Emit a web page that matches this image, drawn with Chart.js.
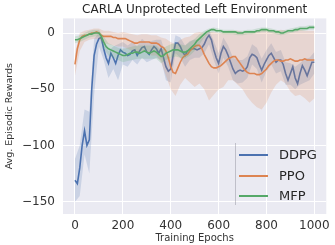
<!DOCTYPE html>
<html>
<head>
<meta charset="utf-8">
<script src="https://cdn.jsdelivr.net/npm/chart.js@4.4.1/dist/chart.umd.min.js"></script>
<style>
  body { margin: 0; background: #fff; }
  #wrap { position: relative; width: 335px; height: 245px; }
  #legend { position: absolute; left: 235px; top: 143px; width: 97px; height: 62px; border-left: 1px solid rgba(140,140,150,0.45); font-family: "DejaVu Sans", sans-serif; font-size: 13px; color: #262626; }
  .item { position: absolute; left: 0; height: 20px; width: 97px; }
  .swatch { position: absolute; left: 3px; top: 9px; width: 29px; height: 2px; }
  .lbl { position: absolute; left: 43px; top: 2px; line-height: 16px; }
</style>
</head>
<body>
<div id="wrap">
  <canvas id="rewardChart" width="335" height="245"></canvas>
  <div id="legend"></div>
</div>
<script>
    // x positions (training epochs)
    const epochs = Array.from({length: 101}, (_, i) => i * 10)
    const bandEpochs = Array.from({length: 51}, (_, i) => i * 20)

    const seriesNames = ['DDPG', 'PPO', 'MFP']
    const seriesColors = ['#4C72B0', '#DD8452', '#55A868']

    const xTicks = [0, 200, 400, 600, 800, 1000]
    const yTicks = [0, -50, -100, -150]

    // mean rewards, every 10 epochs
    const ddpg = [-131,-134,-120,-100,-87,-100,-95,-50,-20,-10,
        -5,-4,-14,-22,-27,-18,-22,-27,-20,-15,
        -17,-18,-20,-19,-16,-15,-20,-16,-13,-12,
        -17,-19,-15,-12,-14,-18,-14,-22,-30,-34,
        -32,-20,-9,-9,-12,-17,-20,-16,-15,-14,
        -14,-15,-14,-13,-10,-5,-2,-6,-15,-22,
        -27,-18,-12,-15,-20,-26,-32,-36,-34,-33,
        -34,-33,-30,-22,-19,-20,-22,-28,-33,-28,
        -24,-20,-18,-22,-26,-24,-24,-28,-36,-42,
        -36,-30,-40,-45,-36,-29,-33,-38,-32,-26,
        -26]
    const ppo = [-28,-14,-6,-3,-2,-2,-1,0,0,1,
        0,-2,-3,-3,-3,-3,-4,-4,-5,-5,
        -5,-5,-6,-7,-8,-9,-9,-8,-8,-8,
        -8,-8,-9,-9,-9,-10,-12,-13,-16,-22,
        -30,-35,-36,-31,-26,-22,-20,-19,-16,-14,
        -12,-11,-11,-14,-19,-23,-27,-30,-31,-31,
        -30,-29,-27,-25,-23,-22,-21,-21,-24,-27,
        -30,-33,-35,-36,-36,-36,-37,-37,-36,-34,
        -32,-29,-27,-25,-24,-24,-25,-25,-24,-24,
        -23,-24,-25,-25,-24,-24,-23,-24,-24,-24,
        -24]
    const mfp = [-6,-6,-5,-4,-3,-2,-1,-1,0,0,
        0,-3,-8,-12,-14,-15,-16,-17,-18,-19,
        -20,-20,-19,-18,-18,-17,-17,-18,-17,-16,
        -17,-18,-17,-16,-17,-19,-21,-20,-18,-17,
        -16,-15,-15,-15,-16,-17,-17,-16,-14,-12,
        -10,-7,-5,-3,-1,1,2,3,3,2,
        2,2,1,1,1,1,1,1,0,0,
        0,1,1,1,1,1,2,2,3,3,
        3,2,2,2,1,1,0,0,1,2,
        2,2,3,3,4,4,4,4,5,5,
        5]

    // confidence bands, every 20 epochs
    const ddpgLo = [-150,-145,-108,-125,-55,-12,-24,-40,-32,-42,-28,-30,-24,-28,-22,-26,-24,-22,-24,-42,-44,-18,-22,-30,-24,-22,-22,-18,-10,-24,-36,-22,-30,-42,-45,-44,-40,-28,-32,-44,-34,-28,-36,-34,-46,-46,-50,-46,-44,-42,-36]
    const ddpgHi = [-112,-100,-68,-70,-5,0,-6,-16,-12,-10,-8,-11,-8,-12,-5,-9,-7,-6,-6,-20,-22,-2,-4,-11,-7,-6,-6,-3,3,-7,-18,-4,-11,-22,-24,-24,-21,-10,-13,-23,-15,-9,-17,-15,-26,-27,-30,-27,-23,-22,-17]
    const ppoLo = [-38,-16,-8,-6,-5,-5,-9,-10,-11,-12,-12,-14,-16,-18,-16,-17,-20,-20,-26,-38,-50,-56,-46,-40,-44,-48,-45,-50,-60,-55,-50,-48,-42,-42,-46,-50,-57,-62,-66,-68,-62,-53,-46,-42,-45,-52,-56,-55,-58,-62,-58]
    const ppoHi = [-18,0,2,3,4,4,2,2,1,0,1,0,-1,-2,-1,-1,-2,-2,-4,-5,-8,-10,-6,-4,-3,0,1,0,1,1,0,1,2,2,2,1,0,1,2,3,3,3,2,3,2,1,2,3,2,2,2]
    const mfpLo = [-9,-8,-6,-4,-3,-3,-14,-20,-22,-24,-26,-25,-24,-23,-23,-23,-23,-23,-27,-24,-22,-21,-22,-23,-20,-16,-10,-4,0,1,0,-1,-1,-1,-2,-2,-1,-1,0,1,1,0,-1,-2,-1,0,1,2,2,3,3]
    const mfpHi = [-3,-2,0,2,3,3,-3,-9,-11,-13,-14,-13,-12,-11,-11,-11,-11,-11,-15,-12,-10,-9,-10,-11,-8,-5,-1,2,4,5,4,3,3,3,2,2,3,3,4,5,5,4,3,2,3,4,5,6,6,7,7]

    const font = '"DejaVu Sans", sans-serif'

    function pts(xs, ys){ return ys.map((v, i) => ({x: xs[i], y: v})) }
    function alpha(hex, a){
        const n = parseInt(hex.slice(1), 16)
        return `rgba(${n >> 16}, ${(n >> 8) & 255}, ${n & 255}, ${a})`
    }

    const means = [ddpg, ppo, mfp]
    const lows = [ddpgLo, ppoLo, mfpLo]
    const highs = [ddpgHi, ppoHi, mfpHi]
    const datasets = []
    seriesNames.forEach((name, s) => {
        const c = seriesColors[s]
        const base = (3 - s) * 2
        datasets.push({ label: name + ' lo', data: pts(bandEpochs, lows[s]), borderWidth: 0, pointRadius: 0, fill: false, order: base })
        datasets.push({ label: name + ' hi', data: pts(bandEpochs, highs[s]), borderWidth: 0, pointRadius: 0, fill: '-1', backgroundColor: alpha(c, 0.2), order: base })
        datasets.push({ label: name, data: pts(epochs, means[s]), borderColor: c, borderWidth: 1.6, pointRadius: 0, fill: false, order: base - 1 })
    })

    // seaborn style plot background
    const plotBg = {
        id: 'plotBg',
        beforeDraw(chart){
            const {ctx, chartArea: a} = chart
            ctx.save()
            ctx.fillStyle = '#EAEAF2'
            ctx.fillRect(a.left, a.top, a.right - a.left, a.bottom - a.top)
            ctx.restore()
        }
    }

    const rewardCtx = document.getElementById('rewardChart').getContext('2d')
    new Chart(rewardCtx, {
        type: 'line',
        data: { datasets: datasets },
        plugins: [plotBg],
        options: {
            responsive: false,
            animation: false,
            layout: { padding: { left: 0, right: 2, top: 0, bottom: 0 } },
            scales: {
                x: {
                    type: 'linear',
                    min: -50, max: 1050,
                    afterBuildTicks: s => { s.ticks = xTicks.map(v => ({value: v})) },
                    afterFit: s => { s.height = 31 },
                    ticks: { color: '#333', font: { family: font, size: 12 }, padding: 5, maxRotation: 0, callback: v => String(v) },
                    grid: { color: '#ffffff', lineWidth: 1, drawTicks: false },
                    border: { display: false },
                    title: { display: true, text: 'Training Epochs', color: '#333', font: { family: font, size: 10 }, padding: { top: 0, bottom: 1 } }
                },
                y: {
                    min: -161, max: 13,
                    afterBuildTicks: s => { s.ticks = yTicks.map(v => ({value: v})) },
                    afterFit: s => { s.width = 63 },
                    ticks: { color: '#333', font: { family: font, size: 12 }, padding: 8, callback: v => String(v).replace('-', '\u2212') },
                    grid: { color: '#ffffff', lineWidth: 1, drawTicks: false },
                    border: { display: false },
                    title: { display: true, text: 'Avg. Episodic Rewards', color: '#333', font: { family: font, size: 9.5 }, padding: { top: 4, bottom: 0 } }
                }
            },
            plugins: {
                legend: { display: false },
                tooltip: { enabled: false },
                title: { display: true, fullSize: false, text: 'CARLA Unprotected Left Environment', color: '#262626', font: { family: font, size: 12, weight: 'normal' }, padding: { top: 3, bottom: 1 } }
            }
        }
    })

    // legend drawn inside the axes, lower right
    const legend = document.getElementById('legend')
    seriesNames.forEach((name, s) => {
        const item = document.createElement('div')
        item.className = 'item'
        item.style.top = (2 + s * 20.5) + 'px'
        item.innerHTML = `<div class="swatch" style="background:${seriesColors[s]}"></div><div class="lbl">${name}</div>`
        legend.appendChild(item)
    })
</script>
</body>
</html>
